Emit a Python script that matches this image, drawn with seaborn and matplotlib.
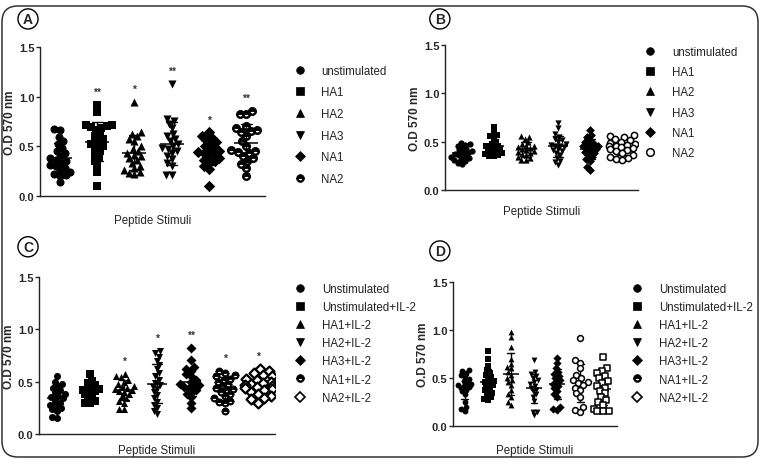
import numpy as np
import pandas as pd
import matplotlib
matplotlib.use('Agg')
import matplotlib.pyplot as plt
import seaborn as sns
from matplotlib.lines import Line2D
from matplotlib.markers import MarkerStyle
from matplotlib.path import Path
from matplotlib.patches import FancyBboxPatch
from matplotlib.transforms import Affine2D, IdentityTransform

# ---- data (O.D 570 nm) ----
groups_a = ['unstimulated', 'HA1', 'HA2', 'HA3', 'NA1', 'NA2']
a_unstim = [0.67, 0.66, 0.59, 0.55, 0.52, 0.48, 0.45, 0.43, 0.40, 0.38, 0.36, 0.35, 0.33, 0.31, 0.30, 0.28, 0.26, 0.24, 0.22, 0.21, 0.20, 0.14]
a_ha1 = [0.92, 0.85, 0.71, 0.71, 0.70, 0.69, 0.68, 0.66, 0.62, 0.60, 0.57, 0.55, 0.52, 0.50, 0.48, 0.45, 0.42, 0.38, 0.35, 0.30, 0.24, 0.10]
a_ha2 = [0.95, 0.64, 0.62, 0.60, 0.57, 0.55, 0.50, 0.47, 0.45, 0.43, 0.41, 0.40, 0.38, 0.36, 0.33, 0.30, 0.28, 0.26, 0.24, 0.23, 0.22]
a_ha3 = [1.13, 0.78, 0.76, 0.73, 0.68, 0.62, 0.60, 0.57, 0.55, 0.52, 0.50, 0.48, 0.47, 0.45, 0.43, 0.40, 0.37, 0.33, 0.30, 0.21, 0.21]
a_na1 = [0.64, 0.60, 0.58, 0.56, 0.54, 0.52, 0.50, 0.48, 0.46, 0.45, 0.44, 0.43, 0.42, 0.40, 0.38, 0.36, 0.35, 0.33, 0.30, 0.27, 0.10]
a_na2 = [0.86, 0.83, 0.83, 0.70, 0.68, 0.66, 0.65, 0.64, 0.60, 0.55, 0.50, 0.46, 0.45, 0.44, 0.43, 0.40, 0.38, 0.35, 0.32, 0.28, 0.20]
stars_a = ['', '**', '*', '**', '*', '**']

groups_b = ['unstimulated', 'HA1', 'HA2', 'HA3', 'NA1', 'NA2']
b_unstim = [0.49, 0.48, 0.47, 0.46, 0.44, 0.42, 0.41, 0.40, 0.39, 0.38, 0.37, 0.36, 0.35, 0.34, 0.33, 0.32, 0.31, 0.30, 0.28, 0.27]
b_ha1 = [0.65, 0.60, 0.57, 0.56, 0.54, 0.50, 0.48, 0.46, 0.45, 0.44, 0.42, 0.41, 0.40, 0.39, 0.38, 0.37, 0.36, 0.35, 0.35]
b_ha2 = [0.56, 0.55, 0.53, 0.50, 0.48, 0.46, 0.45, 0.44, 0.43, 0.42, 0.41, 0.40, 0.39, 0.38, 0.37, 0.36, 0.34, 0.33, 0.31, 0.31]
b_ha3 = [0.69, 0.64, 0.58, 0.55, 0.53, 0.52, 0.50, 0.48, 0.47, 0.46, 0.45, 0.44, 0.42, 0.41, 0.40, 0.38, 0.36, 0.33, 0.30, 0.29, 0.26]
b_na1 = [0.62, 0.57, 0.55, 0.52, 0.50, 0.48, 0.47, 0.46, 0.45, 0.44, 0.43, 0.42, 0.40, 0.39, 0.38, 0.36, 0.34, 0.32, 0.30, 0.24, 0.21]
b_na2 = [0.57, 0.56, 0.55, 0.53, 0.52, 0.50, 0.49, 0.48, 0.47, 0.46, 0.45, 0.44, 0.43, 0.42, 0.41, 0.40, 0.38, 0.36, 0.34, 0.33, 0.32, 0.31]

groups_c = ['Unstimulated', 'Unstimulated+IL-2', 'HA1+IL-2', 'HA2+IL-2', 'HA3+IL-2', 'NA1+IL-2', 'NA2+IL-2']
c_unstim = [0.55, 0.50, 0.48, 0.46, 0.44, 0.42, 0.40, 0.38, 0.36, 0.35, 0.34, 0.32, 0.30, 0.28, 0.27, 0.25, 0.24, 0.22, 0.16, 0.15]
c_unstim_il2 = [0.57, 0.51, 0.49, 0.47, 0.45, 0.43, 0.42, 0.41, 0.40, 0.38, 0.36, 0.34, 0.32, 0.30, 0.30]
c_ha1 = [0.57, 0.55, 0.54, 0.52, 0.50, 0.48, 0.46, 0.45, 0.44, 0.43, 0.42, 0.41, 0.40, 0.38, 0.36, 0.34, 0.32, 0.30, 0.24, 0.24]
c_ha2 = [0.79, 0.77, 0.74, 0.70, 0.66, 0.62, 0.58, 0.55, 0.52, 0.49, 0.47, 0.45, 0.43, 0.40, 0.37, 0.34, 0.31, 0.28, 0.25, 0.22, 0.19]
c_ha3 = [0.82, 0.71, 0.64, 0.62, 0.60, 0.57, 0.55, 0.52, 0.50, 0.48, 0.47, 0.46, 0.45, 0.44, 0.42, 0.40, 0.38, 0.35, 0.30, 0.25]
c_na1 = [0.60, 0.58, 0.56, 0.55, 0.53, 0.52, 0.50, 0.48, 0.46, 0.44, 0.43, 0.42, 0.40, 0.38, 0.36, 0.34, 0.32, 0.31, 0.30, 0.22]
c_na2 = [0.62, 0.60, 0.58, 0.56, 0.55, 0.53, 0.52, 0.50, 0.49, 0.48, 0.47, 0.46, 0.45, 0.44, 0.43, 0.42, 0.40, 0.38, 0.36, 0.34, 0.33, 0.30]
stars_c = ['', '', '*', '*', '**', '*', '*']

groups_d = ['Unstimulated', 'Unstimulated+IL-2', 'HA1+IL-2', 'HA2+IL-2', 'HA3+IL-2', 'NA1+IL-2', 'NA2+IL-2']
d_unstim = [0.58, 0.57, 0.55, 0.53, 0.51, 0.49, 0.47, 0.45, 0.44, 0.43, 0.42, 0.41, 0.40, 0.38, 0.36, 0.33, 0.25, 0.20, 0.18, 0.16]
d_unstim_il2 = [0.78, 0.70, 0.63, 0.58, 0.55, 0.53, 0.51, 0.49, 0.47, 0.46, 0.45, 0.43, 0.42, 0.40, 0.38, 0.36, 0.34, 0.32, 0.30, 0.28, 0.27]
d_ha1 = [0.98, 0.93, 0.82, 0.70, 0.65, 0.62, 0.60, 0.56, 0.53, 0.50, 0.48, 0.46, 0.43, 0.38, 0.33, 0.30, 0.25, 0.22]
d_ha2 = [0.69, 0.56, 0.54, 0.52, 0.50, 0.48, 0.46, 0.44, 0.42, 0.40, 0.38, 0.36, 0.33, 0.30, 0.26, 0.15, 0.15, 0.11]
d_ha3 = [0.71, 0.66, 0.60, 0.56, 0.54, 0.52, 0.50, 0.48, 0.46, 0.44, 0.42, 0.40, 0.37, 0.33, 0.30, 0.20, 0.18, 0.17]
d_na1 = [0.92, 0.69, 0.66, 0.60, 0.53, 0.50, 0.48, 0.46, 0.45, 0.43, 0.40, 0.38, 0.34, 0.30, 0.20, 0.17, 0.15]
d_na2 = [0.72, 0.60, 0.57, 0.55, 0.52, 0.50, 0.47, 0.45, 0.42, 0.40, 0.37, 0.34, 0.30, 0.27, 0.25, 0.22, 0.18, 0.16, 0.16, 0.16]


def half_circle_marker():
    # top half filled, bottom half open ring
    t = np.linspace(0, np.pi, 30)
    top = np.column_stack([np.cos(t), np.sin(t)])
    top_half = Path(np.vstack([top, top[:1]]), closed=True)
    b = np.linspace(np.pi, 2 * np.pi, 30)
    outer = np.column_stack([np.cos(b), np.sin(b)])
    inner = 0.62 * outer[::-1]
    ring = Path(np.vstack([outer, inner, outer[:1]]), closed=True)
    return Path.make_compound_path(top_half, ring)


HALF = half_circle_marker()
# marker, face colour, edge width
FILLED = {'o': ('o', 'black', 0), 's': ('s', 'black', 0), '^': ('^', 'black', 0),
          'v': ('v', 'black', 0), 'D': ('D', 'black', 0), 'half': (HALF, 'black', 0.6),
          'oo': ('o', 'white', 1.1), 'oD': ('D', 'white', 1.6), 'os': ('s', 'white', 1.1)}

# markers are drawn bigger than the size used to pack the swarm, so they
# overlap like the original GraphPad scatter
OVERLAP = 1.45


def draw_panel(ax, groups, values, data_marks, size, mean_len, stars=None):
    df = pd.DataFrame({'group': np.repeat(groups, [len(v) for v in values]),
                       'od': np.concatenate(values)})
    for g, key in zip(groups, data_marks):
        m, face, lw = FILLED[key]
        mk = MarkerStyle(m, transform=Affine2D().scale(OVERLAP))
        sns.swarmplot(data=df[df.group == g], x='group', y='od', order=groups, ax=ax,
                      marker=mk, size=size, color='black', facecolor=face,
                      edgecolor='black', linewidth=lw, warn_thresh=1)
    sns.pointplot(data=df, x='group', y='od', order=groups, ax=ax, errorbar='sd',
                  capsize=0.3, color='black', linestyle='none', marker='_',
                  markersize=mean_len, markeredgewidth=1.1, err_kws={'linewidth': 1.0})
    if stars:
        top = df.groupby('group', sort=False)['od'].max()
        for i, (g, s) in enumerate(zip(groups, stars)):
            if s:
                ax.text(i, top[g] + 0.13, s, ha='center', va='center', fontsize=7.5,
                        fontweight='bold', color='#333333')
    ax.set_ylim(0, 1.5)
    ax.set_xlim(-0.53, len(groups) - 0.5)
    ax.set_yticks([0, 0.5, 1.0, 1.5])
    ax.set_yticklabels(['0.0', '0.5', '1.0', '1.5'], fontweight='bold')
    ax.set_xticks([])
    ax.tick_params(axis='y', direction='out', length=3, width=1, labelsize=8, pad=1)
    ax.set_ylabel('O.D 570 nm', fontsize=8.5, fontweight='bold', labelpad=2)
    sns.despine(ax=ax)
    for sp in ('left', 'bottom'):
        ax.spines[sp].set_linewidth(1.0)
        ax.spines[sp].set_color('#222222')


def add_legend(fig, labels, legend_marks, x, y, spacing):
    handles = []
    for key in legend_marks:
        m, face, lw = FILLED[key]
        handles.append(Line2D([], [], marker=m, linestyle='none', color='black',
                              markerfacecolor=face, markeredgecolor='black',
                              markeredgewidth=max(min(lw, 1.2), 0.5), markersize=5.5))
    fig.legend(handles, labels, loc='upper left', bbox_to_anchor=(x, y),
               bbox_transform=fig.transFigure, frameon=False, fontsize=8.3,
               handlelength=1.0, handletextpad=1.4, labelspacing=spacing,
               borderpad=0, borderaxespad=0, labelcolor='#222222')


sns.set_style('ticks')
plt.rcParams['font.family'] = ['Liberation Sans', 'DejaVu Sans']

fig = plt.figure(figsize=(7.61, 4.64), dpi=100)

ax_a = fig.add_axes([0.0526, 0.5754, 0.2957, 0.3211])
ax_b = fig.add_axes([0.5848, 0.5884, 0.2536, 0.3125])
ax_c = fig.add_axes([0.0512, 0.0625, 0.3101, 0.3384])
ax_d = fig.add_axes([0.5953, 0.0797, 0.2155, 0.3103])

draw_panel(ax_a, groups_a, [a_unstim, a_ha1, a_ha2, a_ha3, a_na1, a_na2],
           ['o', 's', '^', 'v', 'D', 'half'], 4.0, 17, stars_a)
draw_panel(ax_b, groups_b, [b_unstim, b_ha1, b_ha2, b_ha3, b_na1, b_na2],
           ['o', 's', '^', 'v', 'D', 'oo'], 3.1, 14)
draw_panel(ax_c, groups_c, [c_unstim, c_unstim_il2, c_ha1, c_ha2, c_ha3, c_na1, c_na2],
           ['o', 's', '^', 'v', 'D', 'half', 'oD'], 3.5, 15, stars_c)
draw_panel(ax_d, groups_d, [d_unstim, d_unstim_il2, d_ha1, d_ha2, d_ha3, d_na1, d_na2],
           ['o', 's', '^', 'v', 'D', 'oo', 'os'], 2.9, 11)
ax_d.set_xlim(-0.51, 6.6)

ax_a.set_xlabel('Peptide Stimuli', fontsize=8.3, labelpad=13)
ax_b.set_xlabel('Peptide Stimuli', fontsize=8.3, labelpad=11)
ax_c.set_xlabel('Peptide Stimuli', fontsize=8.3, labelpad=7)
ax_d.set_xlabel('Peptide Stimuli', fontsize=8.3, labelpad=13)

add_legend(fig, groups_a, ['o', 's', '^', 'v', 'D', 'half'], 0.386, 0.858, 0.83)
add_legend(fig, groups_b, ['o', 's', '^', 'v', 'D', 'oo'], 0.847, 0.898, 0.70)
add_legend(fig, groups_c, ['o', 's', '^', 'v', 'D', 'half', 'oD'], 0.387, 0.388, 0.53)
add_legend(fig, groups_d, ['o', 's', '^', 'v', 'D', 'half', 'oD'], 0.830, 0.388, 0.53)

# circled panel letters
for letter, x, y in [('A', 0.0368, 0.957), ('B', 0.578, 0.957), ('C', 0.0368, 0.466), ('D', 0.578, 0.457)]:
    fig.text(x, y, letter, ha='center', va='center', fontsize=10, fontweight='bold',
             bbox=dict(boxstyle='circle,pad=0.22', fc='white', ec='black', lw=1.0))

# rounded frame around the whole figure (pixel coordinates)
frame = FancyBboxPatch((2, 6), 756, 451, boxstyle='round,pad=0,rounding_size=16',
                       transform=IdentityTransform(), fill=False, ec='#333333', lw=1.1)
fig.patches.append(frame)

fig.savefig('out.png', dpi=100)
